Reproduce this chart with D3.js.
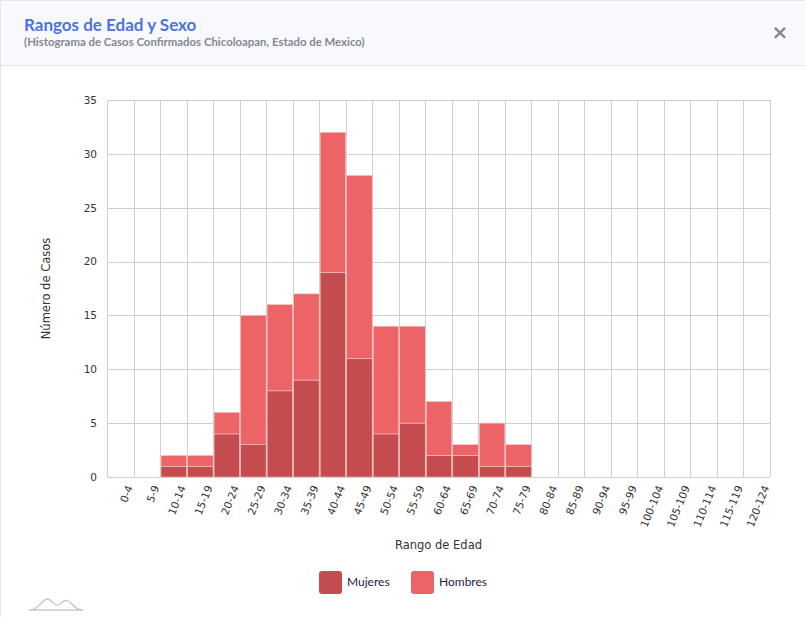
<!DOCTYPE html>
<html>
<head>
<meta charset="utf-8">
<script src="https://cdn.jsdelivr.net/npm/d3@7"></script>
<style>
  body { margin: 0; background: #fff; font-family: Lato, "Open Sans", sans-serif; }
  svg { display: block; }
</style>
</head>
<body>
<div id="chart"></div>
<script>
// rangos de edad
const rangos = ['0-4','5-9','10-14','15-19','20-24','25-29','30-34','35-39','40-44','45-49',
  '50-54','55-59','60-64','65-69','70-74','75-79','80-84','85-89','90-94','95-99',
  '100-104','105-109','110-114','115-119','120-124']
const mujeres = [0,0,1,1,4,3,8,9,19,11,4,5,2,2,1,1,0,0,0,0,0,0,0,0,0]
const hombres = [0,0,1,1,2,12,8,8,13,17,10,9,5,1,4,2,0,0,0,0,0,0,0,0,0]
const yTicks = [0,5,10,15,20,25,30,35]
const series = ['Mujeres','Hombres']
const colores = ['#c44b4e','#ec6466']

const width = 805, height = 617
const margin = {top: 100, right: 35, bottom: 140, left: 107}
const visW = width - margin.left - margin.right
const visH = height - margin.top - margin.bottom

const svg = d3.select('#chart').append('svg')
  .attr('width', width)
  .attr('height', height)

// tarjeta
svg.append('rect').attr('x', 0.5).attr('y', 0.5).attr('width', width).attr('height', height)
  .attr('fill', '#fff').attr('stroke', '#e3e6f0')
svg.append('rect').attr('x', 1).attr('y', 1).attr('width', width).attr('height', 64)
  .attr('fill', '#f8f9fc')
svg.append('line').attr('x1', 1).attr('x2', width).attr('y1', 65.5).attr('y2', 65.5)
  .attr('stroke', '#e3e6f0')
svg.append('text').attr('x', 24).attr('y', 31)
  .attr('fill', '#4e73df').attr('font-size', 17).attr('font-weight', 700)
  .text('Rangos de Edad y Sexo')
svg.append('text').attr('x', 24).attr('y', 46)
  .attr('fill', '#858796').attr('font-size', 11.4).attr('font-weight', 700)
  .text('(Histograma de Casos Confirmados Chicoloapan, Estado de Mexico)')
svg.append('text').attr('x', 780).attr('y', 39).attr('text-anchor', 'middle')
  .attr('fill', '#858796').attr('font-size', 20).attr('font-weight', 700)
  .attr('font-family', 'DejaVu Sans, sans-serif')
  .text('×')

const x = d3.scaleBand().domain(rangos).range([0, visW])
const y = d3.scaleLinear().domain([0, 35]).range([visH, 0])

const g = svg.append('g').attr('transform', `translate(${margin.left},${margin.top})`)

// rejilla
g.selectAll('.gy').data(yTicks).join('line')
  .attr('x1', 0).attr('x2', visW)
  .attr('y1', d => Math.round(y(d)) + 0.5).attr('y2', d => Math.round(y(d)) + 0.5)
  .attr('stroke', '#d0d0d0')
g.selectAll('.gx').data(rangos.concat(['fin'])).join('line')
  .attr('x1', (d, i) => Math.round(i * x.step()) + 0.5)
  .attr('x2', (d, i) => Math.round(i * x.step()) + 0.5)
  .attr('y1', 0).attr('y2', visH)
  .attr('stroke', '#d0d0d0')

// barras apiladas
const tabla = rangos.map((r, i) => ({rango: r, Mujeres: mujeres[i], Hombres: hombres[i]}))
const stack = d3.stack().keys(series)(tabla)

g.selectAll('.serie').data(stack).join('g')
  .attr('fill', (d, i) => colores[i])
  .selectAll('rect').data(d => d.filter(p => p[1] > p[0])).join('rect')
  .attr('x', d => x(d.data.rango) + 1)
  .attr('width', x.bandwidth() - 1)
  .attr('y', d => y(d[1]))
  .attr('height', d => y(d[0]) - y(d[1]))
  .attr('stroke', '#f4c4c5')
  .attr('stroke-width', 0.6)

// ejes
const axisY = d3.axisLeft(y).tickValues(yTicks).tickSize(0).tickPadding(10)
const yG = g.append('g').call(axisY)
yG.select('.domain').remove()
yG.selectAll('text').attr('font-family', 'DejaVu Sans, Verdana, sans-serif')
  .attr('font-size', 10.5).attr('fill', '#333')

const axisX = d3.axisBottom(x).tickSize(0).tickPadding(8)
const xG = g.append('g').attr('transform', `translate(0,${visH})`).call(axisX)
xG.select('.domain').remove()
xG.selectAll('text')
  .attr('font-family', 'DejaVu Sans, Verdana, sans-serif')
  .attr('font-size', 10.5).attr('fill', '#333')
  .attr('text-anchor', 'end')
  .attr('dy', '0.35em')
  .attr('transform', 'translate(2,6) rotate(-68)')

svg.append('text')
  .attr('transform', `translate(50,${margin.top + visH / 2}) rotate(-90)`)
  .attr('text-anchor', 'middle')
  .attr('font-family', 'DejaVu Sans, Verdana, sans-serif')
  .attr('font-size', 11.5).attr('fill', '#333')
  .text('Número de Casos')
svg.append('text')
  .attr('x', margin.left + visW / 2).attr('y', 549)
  .attr('text-anchor', 'middle')
  .attr('font-family', 'DejaVu Sans, Verdana, sans-serif')
  .attr('font-size', 11.5).attr('fill', '#333')
  .text('Rango de Edad')

// leyenda
const leg = svg.append('g').attr('transform', 'translate(319,571)')
const item = leg.selectAll('g').data(series).join('g')
  .attr('transform', (d, i) => `translate(${i * 92},0)`)
item.append('rect').attr('width', 23).attr('height', 23).attr('rx', 3)
  .attr('fill', (d, i) => colores[i])
item.append('text').attr('x', 28).attr('y', 15)
  .attr('font-size', 12).attr('fill', '#1d1d3f')
  .text(d => d)

// icono
svg.append('path')
  .attr('d', 'M29,610 L83,610 M31,610 C38,610 42,600 47,599 C52,599 55,608 60,604 C64,600 67,599 71,603 C74,607 77,610 83,610')
  .attr('fill', 'none').attr('stroke', '#c8c8c8').attr('stroke-width', 1.3)
</script>
</body>
</html>
